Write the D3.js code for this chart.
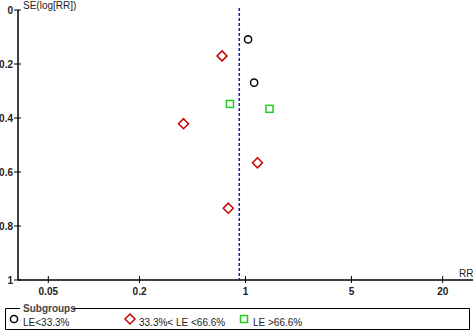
<!DOCTYPE html>
<html>
<head>
<meta charset="utf-8">
<script src="https://cdnjs.cloudflare.com/ajax/libs/d3/7.8.5/d3.min.js"></script>
<style>
  body { margin: 0; background: #fff; }
  text { font-family: "Liberation Sans", Arial, sans-serif; }
</style>
</head>
<body>
<div id="chart"></div>
<script>
// study estimates
const groups = ["LE<33.3%", "33.3%< LE <66.6%", "LE >66.6%"]
const groupOf = [0, 1, 0, 2, 2, 1, 1, 1]
const rr = [1.04, 0.70, 1.14, 0.79, 1.44, 0.39, 1.20, 0.77]
const se = [0.109, 0.170, 0.269, 0.348, 0.366, 0.421, 0.566, 0.734]
const pooledRR = 0.91
const xTicks = [0.05, 0.2, 1, 5, 20]
const yTicks = [0, 0.2, 0.4, 0.6, 0.8, 1]

const data = rr.map((v, i) => ({rr: v, se: se[i], g: groupOf[i]}))

const W = 473, H = 331
const svg = d3.select("#chart").append("svg")
  .attr("width", W).attr("height", H)

// scales
const x = d3.scaleLog()
  .domain([0.05, 20])
  .range([48.3, 442.7])
const y = d3.scaleLinear()
  .domain([0, 1])
  .range([10, 280])

const x0 = 18, x1 = 473

// y axis
svg.append("line")
  .attr("x1", x0).attr("x2", x0)
  .attr("y1", y(0)).attr("y2", y(1))
  .attr("stroke", "#000").attr("stroke-width", 1.5)
svg.selectAll(".yt").data(yTicks).enter().append("line")
  .attr("x1", x0 - 4).attr("x2", x0 + 3)
  .attr("y1", d => y(d)).attr("y2", d => y(d))
  .attr("stroke", "#000").attr("stroke-width", 1)
svg.selectAll(".yl").data(yTicks).enter().append("text")
  .attr("x", x0 - 5).attr("y", d => y(d) + 4)
  .attr("text-anchor", "end")
  .attr("font-size", 10).attr("font-weight", "bold").attr("fill", "#222")
  .text(d => d)

// x axis
svg.append("line")
  .attr("x1", x0).attr("x2", x1)
  .attr("y1", y(1)).attr("y2", y(1))
  .attr("stroke", "#000").attr("stroke-width", 1.5)
svg.selectAll(".xt").data(xTicks).enter().append("line")
  .attr("x1", d => x(d)).attr("x2", d => x(d))
  .attr("y1", y(1) - 4).attr("y2", y(1) + 3)
  .attr("stroke", "#000").attr("stroke-width", 1)
svg.selectAll(".xl").data(xTicks).enter().append("text")
  .attr("x", d => x(d)).attr("y", y(1) + 15)
  .attr("text-anchor", "middle")
  .attr("font-size", 10).attr("font-weight", "bold").attr("fill", "#222")
  .text(d => d)

svg.append("text").attr("x", 459).attr("y", 277)
  .attr("font-size", 10).attr("fill", "#222").text("RR")
svg.append("text").attr("x", 23).attr("y", 9)
  .attr("font-size", 10).attr("fill", "#222").text("SE(log[RR])")

// pooled estimate line
svg.append("line")
  .attr("x1", x(pooledRR)).attr("x2", x(pooledRR))
  .attr("y1", 8).attr("y2", y(1))
  .attr("stroke", "#1a1ab8").attr("stroke-width", 1.5)
  .attr("stroke-dasharray", "3,2")

// markers
const colors = ["#000", "#cc0000", "#22cc22"]
function marker(sel, g, cx, cy) {
  if (g === 0) {
    sel.append("circle").attr("cx", cx).attr("cy", cy).attr("r", 3.6)
      .attr("fill", "none").attr("stroke", colors[0]).attr("stroke-width", 1.5)
  } else if (g === 1) {
    const s = 5
    sel.append("path")
      .attr("d", `M${cx},${cy - s}L${cx + s},${cy}L${cx},${cy + s}L${cx - s},${cy}Z`)
      .attr("fill", "none").attr("stroke", colors[1]).attr("stroke-width", 1.5)
  } else {
    sel.append("rect").attr("x", cx - 3.5).attr("y", cy - 3.5)
      .attr("width", 7).attr("height", 7)
      .attr("fill", "none").attr("stroke", colors[2]).attr("stroke-width", 1.5)
  }
}
const pts = svg.append("g")
data.forEach(d => marker(pts, d.g, x(d.rr), y(d.se)))

// legend
const leg = svg.append("g")
leg.append("path")
  .attr("d", "M20,308.5H5.5V329.5H469.5V308.5H73")
  .attr("fill", "none").attr("stroke", "#000").attr("stroke-width", 1)
leg.append("text").attr("x", 23).attr("y", 312)
  .attr("font-size", 10).attr("font-weight", "bold").attr("fill", "#444")
  .text("Subgroups")
const legX = [14, 130, 244]
groups.forEach((g, i) => {
  marker(leg, i, legX[i], 319)
  leg.append("text").attr("x", legX[i] + 9).attr("y", 326)
    .attr("font-size", 10).attr("fill", "#222").text(g)
})
</script>
</body>
</html>
